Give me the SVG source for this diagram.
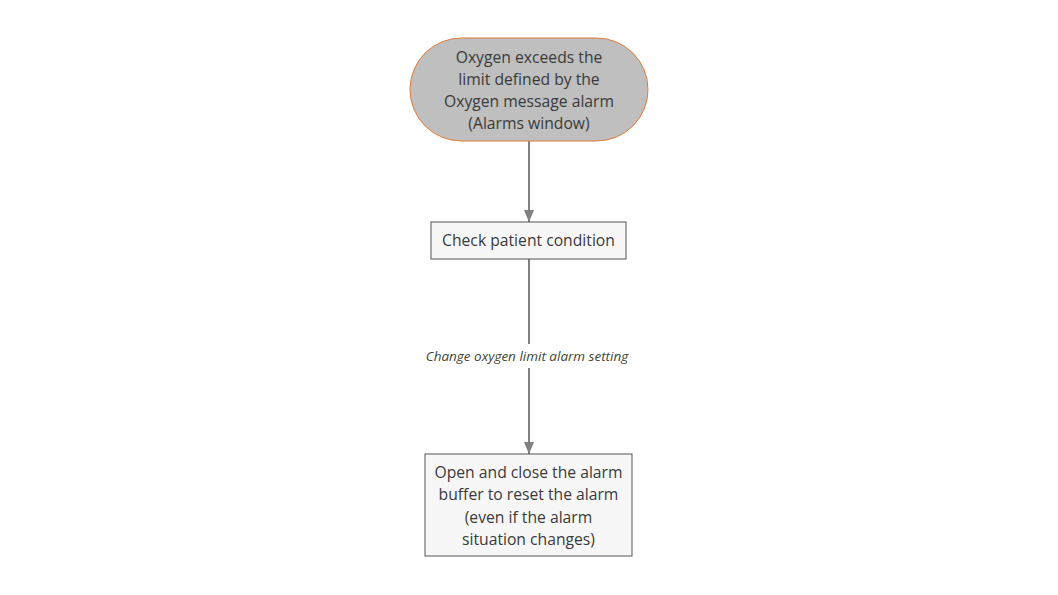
<svg xmlns="http://www.w3.org/2000/svg" width="1058" height="595" viewBox="0 0 1058 595">
<style>
.t{font-family:"Open Sans","Noto Sans",sans-serif;font-size:15.7px;fill:#3a3a3a;text-anchor:middle}
.lbl{font-family:"Open Sans","Noto Sans",sans-serif;font-size:13.5px;font-style:italic;fill:#444433;text-anchor:middle}
.box{fill:#f7f7f7;stroke:#555;stroke-width:1}
.edge{stroke:#808080;stroke-width:2;fill:none}
</style>
<defs>
<marker id="arr" markerWidth="12" markerHeight="10" refX="12" refY="5" orient="auto" markerUnits="userSpaceOnUse">
<path d="M0,0 L12,5 L0,10 z" fill="#808080"/>
</marker>
</defs>
<rect width="1058" height="595" fill="#fff"/>
<g id="connectors">
<line class="edge" x1="529" y1="141" x2="529" y2="222" marker-end="url(#arr)"/>
<line class="edge" x1="529" y1="259" x2="529" y2="344"/>
<line class="edge" x1="529" y1="368" x2="529" y2="454" marker-end="url(#arr)"/>
<text class="lbl" x="527" y="361">Change oxygen limit alarm setting</text>
</g>
<g id="n1">
<rect x="410" y="38" width="238" height="103" rx="51.5" ry="51.5" fill="#bfbfbf" stroke="#e07b39" stroke-width="1"/>
<text class="t" x="529" y="63">Oxygen exceeds the</text>
<text class="t" x="529" y="85">limit defined by the</text>
<text class="t" x="529" y="107">Oxygen message alarm</text>
<text class="t" x="529" y="129">(Alarms window)</text>
</g>
<g id="n2">
<rect class="box" x="431" y="222" width="195" height="37"/>
<text class="t" x="528.5" y="246">Check patient condition</text>
</g>
<g id="n3">
<rect class="box" x="425" y="454" width="207" height="102"/>
<text class="t" x="528.5" y="478">Open and close the alarm</text>
<text class="t" x="528.5" y="500">buffer to reset the alarm</text>
<text class="t" x="528.5" y="523">(even if the alarm</text>
<text class="t" x="528.5" y="545">situation changes)</text>
</g>
</svg>
